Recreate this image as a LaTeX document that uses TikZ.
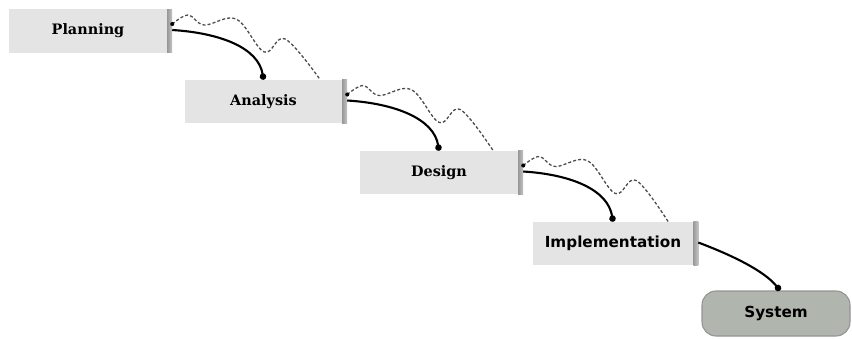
\documentclass[tikz,border=0pt]{standalone}
\usepackage{fontspec}
\newfontfamily\stageserif{DejaVu Serif}
\newfontfamily\stagesans{DejaVu Sans}
\usetikzlibrary{calc,arrows.meta}
\definecolor{systemfill}{RGB}{176,182,174}
\begin{document}
\begin{tikzpicture}[x=0.03cm,y=-0.03cm,
  stagebox/.style={fill=gray!21, minimum height=1.29cm, inner sep=0pt, text=black},
  serifstage/.style={stagebox, font=\stageserif\bfseries\fontsize{12.3}{14}\selectfont},
  sansstage/.style={stagebox, font=\stagesans\bfseries\fontsize{13}{15}\selectfont},
  sidestrip/.style={left color=gray!80, right color=gray!45},
  flow/.style={line width=1.8pt, -{Circle[length=5.5pt]}},
  feedback/.style={draw=black!70, line width=1.1pt, dash pattern=on 2.6pt off 1.8pt},
  startdot/.style={fill=black, circle, inner sep=0pt, minimum size=3.5pt}
]
\useasboundingbox (0,0) rectangle (852,338);

% stage boxes (front faces)
\node[serifstage, minimum width=4.74cm] (P) at (88,31)      {Planning};
\node[serifstage, minimum width=4.71cm] (A) at (263.5,101.5) {Analysis};
\node[serifstage, minimum width=4.74cm] (D) at (439,172.5)  {Design};
\node[sansstage,  minimum width=4.8cm]  (I) at (613,243.5)  {Implementation};
\node[sansstage, fill=systemfill, draw=gray!85, line width=0.9pt,
      rounded corners=0.42cm, minimum width=4.44cm, minimum height=1.35cm]
      (S) at (776,313.5) {System};

% shaded side strips on the right of each stage box
\foreach \b in {P,A,D,I}{
  \fill[sidestrip] (\b.north east) rectangle ($(\b.south east)+(5,0)$);
  \coordinate (\b e) at ($(\b.east)+(5,-1)$);
  \coordinate (\b d) at ($(\b.east)+(5,-7)$);
}

% feedback end points on the top edge of the following stage
\coordinate (Aa) at ($(A.north east)+(-22,0)$);
\coordinate (Da) at ($(D.north east)+(-25,0)$);
\coordinate (Ia) at ($(I.north east)+(-25,0)$);

% forward flow between stages
\draw[flow] (Pe) .. controls ($(Pe)+(48,3)$) and ($(A.north)+(-5,-32)$) .. (A.north);
\draw[flow] (Ae) .. controls ($(Ae)+(48,3)$) and ($(D.north)+(-5,-32)$) .. (D.north);
\draw[flow] (De) .. controls ($(De)+(48,3)$) and ($(I.north)+(-5,-32)$) .. (I.north);
\draw[flow] (Ie) .. controls ($(Ie)+(32,12)$) and ($(S.north)+(-12,-20)$) .. ($(S.north)+(4,0)$);

% wavy feedback paths back to the previous stage
\foreach \b/\t in {P/Aa, A/Da, D/Ia}{
  \draw[feedback] plot[smooth, tension=0.6] coordinates {
    (\b d) ($(\b d)+(16,-9)$) ($(\b d)+(32,1)$) ($(\b d)+(64,-5)$)
    ($(\b d)+(92,28)$) ($(\b d)+(113,15)$) (\t)};
  \node[startdot] at (\b d) {};
}
\end{tikzpicture}
\end{document}
